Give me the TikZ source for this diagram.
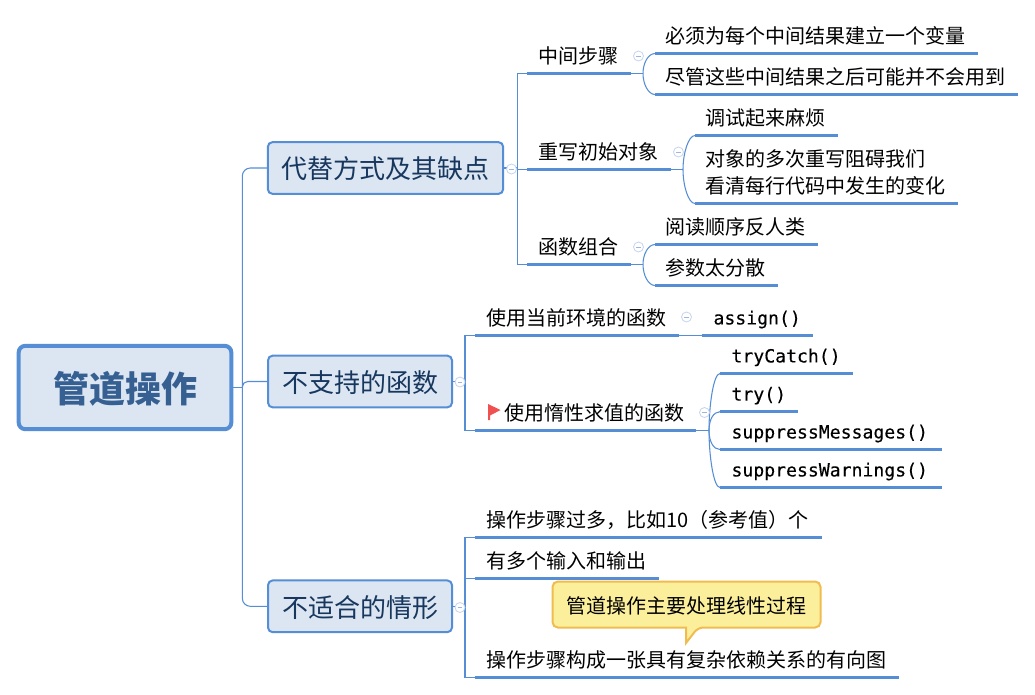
\documentclass[tikz,border=0pt]{standalone}
\usepackage{fontspec}
\setmainfont{Noto Sans CJK SC}
\newfontfamily\codefont[FakeBold=0.25]{DejaVu Sans Mono}
\definecolor{linec}{HTML}{558ED5}
\definecolor{boxfill}{HTML}{DCE6F2}
\definecolor{titlec}{HTML}{376092}
\definecolor{darkc}{HTML}{17375E}
\definecolor{collc}{HTML}{C6D4EE}
\definecolor{collm}{HTML}{9FB5DE}
\definecolor{notef}{HTML}{FCEF9C}
\definecolor{notel}{HTML}{F0BC50}
\definecolor{flagc}{HTML}{F05050}
\def\pxu{0.75pt}
\tikzset{
  rootbox/.style={draw=linec,fill=boxfill,line width=3pt,rounded corners=5pt,text=titlec,text height=23.2pt,text depth=0pt,
    font=\fontsize{27}{32}\selectfont\bfseries,minimum width=159.5pt,minimum height=62.5pt,inner sep=0pt},
  mainbox/.style={draw=linec,fill=boxfill,line width=1.5pt,rounded corners=3.5pt,text=darkc,text height=16.3pt,text depth=0pt,
    font=\fontsize{19.5}{24}\selectfont,minimum height=38.8pt,inner sep=0pt},
  topic/.style={anchor=south west,align=left,inner ysep=7.6pt,text depth=0pt,outer sep=0pt,
    font=\fontsize{15}{20.25}\selectfont,text=black},
  ul/.style={draw=linec,line width=2.3pt},
  conn/.style={draw=linec,line width=0.8pt},
  bend/.style={in=180,in distance=5pt,out distance=#1},
  collapse/.style={circle,draw=collc,fill=white,line width=0.6pt,minimum size=7.5pt,inner sep=0pt,text=collm,
    font=\fontsize{4}{4}\selectfont},
  notebox/.style={draw=notel,fill=notef,line width=1.5pt,rounded corners=4pt},
  notetext/.style={font=\fontsize{15}{20}\selectfont,text=black,inner sep=0pt},
  code/.style={font=\codefont\fontsize{13.6}{18}\selectfont,inner ysep=8.3pt},
}
\newcommand{\tp}[7][]{%
  \node[topic,#1,inner xsep=#6*\pxu,text width=(#4-#3-2*#6)*\pxu] (#2) at (#3,#5) {#7};
  \draw[ul] (#2.south west) -- (#2.south east);}
\newcommand{\cminus}{\rule{3.4pt}{0.6pt}}
\begin{document}
\begin{tikzpicture}[x=0.75pt,y=-0.75pt]
\useasboundingbox[fill=white] (0,0) rectangle (1035,694);
% main boxes
\node[rootbox] (root) at (125,387.5) {管道操作};
\node[mainbox,minimum width=176.5pt] (b1) at (385.5,168) {代替方式及其缺点};
\node[mainbox,minimum width=138pt] (b2) at (360,381.5) {不支持的函数};
\node[mainbox,minimum width=138pt] (b3) at (360,606.3) {不适合的情形};
% level 2
\tp{a1}{527}{631}{73.5}{11}{中间步骤}
\tp{a2}{527}{671}{169.5}{11}{重写初始对象}
\tp{a3}{527}{631}{264.5}{11}{函数组合}
\tp{d1}{475}{679}{335.5}{11}{使用当前环境的函数}
\tp{d2}{475}{696}{430.5}{29}{使用惰性求值的函数}
\tp{g1}{475}{822}{537.5}{11}{操作步骤过多，比如10（参考值）个}
\tp{g2}{475}{658.5}{578.5}{11}{有多个输入和输出}
\tp{g3}{475}{899}{677.5}{11}{操作步骤构成一张具有复杂依赖关系的有向图}
% level 3
\tp{a11}{655}{978}{53.5}{10}{必须为每个中间结果建立一个变量}
\tp{a12}{655}{1017.5}{94.5}{10}{尽管这些中间结果之后可能并不会用到}
\tp{a21}{695}{838}{135.5}{10}{调试起来麻烦}
\tp[text depth=20.25pt]{a22}{695}{958}{203.5}{10}{对象的多次重写阻碍我们\\看清每行代码中发生的变化}
\tp{a31}{655}{817.5}{244.5}{10}{阅读顺序反人类}
\tp{a32}{655}{777.5}{285.5}{10}{参数太分散}
\tp[code]{e1}{702}{813}{335.5}{11.5}{assign()}
\tp[code]{f1}{720}{853}{373.5}{11.5}{tryCatch()}
\tp[code]{f2}{720}{798}{411.7}{11.5}{try()}
\tp[code]{f3}{720}{941.7}{449.5}{11.5}{suppressMessages()}
\tp[code]{f4}{720}{941.7}{487.5}{11.5}{suppressWarnings()}
% connectors root
\draw[conn] (root.east) -- ++(9,0) coordinate (sp);
\draw[conn,rounded corners=6pt] (sp) |- (b1.west);
\draw[conn,rounded corners=4pt] (sp) |- (b2.west);
\draw[conn,rounded corners=6pt] (sp) |- (b3.west);
% level-1 to level-2
\draw[conn] (b1.east) -- ++(13,0) coordinate (s1);
\draw[conn] (s1) |- (a1.south west);
\draw[conn] (s1) |- (a2.south west);
\draw[conn] (s1) |- (a3.south west);
\draw[conn] (b2.east) -- ++(12,0) coordinate (s2);
\draw[conn] (s2) |- (d1.south west);
\draw[conn] (s2) |- (d2.south west);
\draw[conn] (b3.east) -- ++(12,0) coordinate (s3);
\draw[conn] (s3) |- (g1.south west);
\draw[conn] (s3) |- (g2.south west);
\draw[conn] (s3) |- (g3.south west);
% level-2 to level-3
\foreach \pp/\up/\dn/\dd in {a1/a11/a12/8pt,a2/a21/a22/12pt,a3/a31/a32/8pt}{
  \draw[conn] (\pp.south east) -- ++(12,0) coordinate (k);
  \draw[conn] (k) to[out=90,bend=\dd] (\up.south west);
  \draw[conn] (k) to[out=-90,bend=\dd] (\dn.south west);
}
\draw[conn] (d1.south east) -- (e1.south west);
\draw[conn] (d2.south east) -- ++(13,0) coordinate (k);
\draw[conn] (k) to[out=90,bend=18pt] (f1.south west);
\draw[conn] (k) to[out=90,bend=8pt] (f2.south west);
\draw[conn] (k) to[out=-90,bend=8pt] (f3.south west);
\draw[conn] (k) to[out=-90,bend=18pt] (f4.south west);
% collapse markers
\node[collapse] (c1) at (511.5,169) {\cminus};
\node[collapse] (c2) at (460,382) {\cminus};
\node[collapse] (c3) at (460,607.5) {\cminus};
\node[collapse] (c4) at (638.5,56) {\cminus};
\node[collapse] (c5) at (678.5,152) {\cminus};
\node[collapse] (c6) at (638.5,247) {\cminus};
\node[collapse] (c7) at (686.5,317) {\cminus};
\node[collapse] (c8) at (704.5,412.5) {\cminus};
% flag
\fill[flagc] (488,404) -- (500.5,410) -- (490,415.5) -- (490,420) -- (488,420) -- cycle;
% note
\draw[notebox] (552.5,581.5) -- (820.5,581.5) -- (820.5,627.5) -- (698,627.5) [sharp corners] -- (686,643) -- (686,627.5) [rounded corners=4pt] -- (552.5,627.5) -- cycle;
\node[notetext] (note) at (686.5,605.5) {管道操作主要处理线性过程};
\end{tikzpicture}
\end{document}
